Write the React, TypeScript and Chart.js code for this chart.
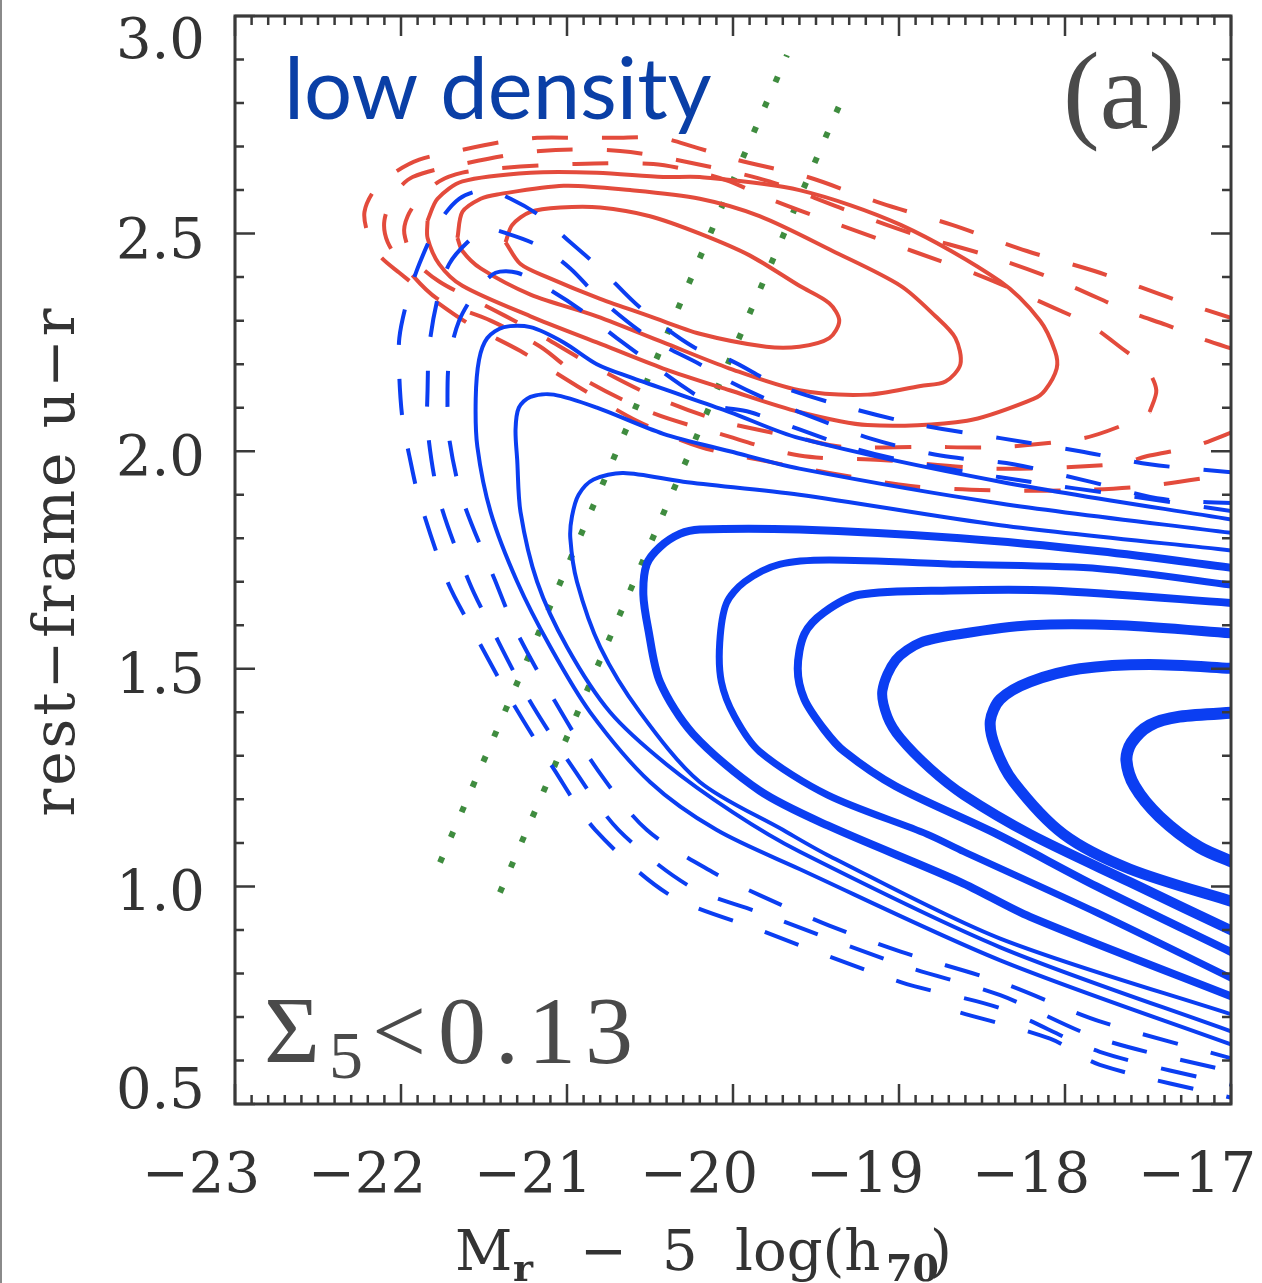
import React, { useEffect, useRef } from "react";
import { Chart, registerables } from "chart.js";

Chart.register(...registerables);

type Pt = [number, number];

// ---- axes ----
const xRange: [number, number] = [-23, -17];
const yRange: [number, number] = [0.5, 3.0];
const xTicks = [-23, -22, -21, -20, -19, -18, -17];
const xTickLabels = ["−23", "−22", "−21", "−20", "−19", "−18", "−17"];
const yTicks = [0.5, 1.0, 1.5, 2.0, 2.5, 3.0];
const yTickLabels = ["0.5", "1.0", "1.5", "2.0", "2.5", "3.0"];
const minorStep = 0.1;

// ---- blue population: solid contours, innermost (thickest) first ----
const blueF: Pt[] = [[-16.95,1.40],[-17.31,1.39],[-17.49,1.37],[-17.60,1.33],[-17.63,1.29],[-17.58,1.23],[-17.43,1.16],[-17.19,1.09],[-16.95,1.05]];
const blueE: Pt[] = [[-16.95,1.50],[-17.49,1.51],[-17.91,1.50],[-18.21,1.47],[-18.39,1.43],[-18.45,1.38],[-18.42,1.32],[-18.31,1.24],[-18.01,1.12],[-17.61,1.04],[-16.95,0.96]];
const blueD: Pt[] = [[-16.95,1.58],[-17.67,1.60],[-18.21,1.60],[-18.63,1.58],[-18.87,1.56],[-19.02,1.52],[-19.10,1.45],[-19.07,1.39],[-18.99,1.34],[-18.81,1.27],[-18.61,1.21],[-18.21,1.12],[-17.61,1.01],[-16.95,0.89]];
const blueC: Pt[] = [[-16.95,1.65],[-18.09,1.68],[-18.69,1.68],[-19.24,1.67],[-19.45,1.63],[-19.57,1.58],[-19.61,1.50],[-19.57,1.43],[-19.45,1.36],[-19.33,1.31],[-19.02,1.23],[-18.41,1.12],[-17.81,1.00],[-16.95,0.84]];
const blueB: Pt[] = [[-16.95,1.69],[-17.79,1.73],[-18.63,1.74],[-19.42,1.75],[-19.72,1.74],[-19.93,1.70],[-20.04,1.65],[-20.08,1.56],[-20.07,1.47],[-19.99,1.39],[-19.84,1.31],[-19.43,1.21],[-18.83,1.12],[-18.61,1.08],[-17.81,0.94],[-16.95,0.78]];
const blueA: Pt[] = [[-16.95,1.73],[-17.79,1.77],[-18.63,1.80],[-19.60,1.82],[-20.20,1.82],[-20.32,1.81],[-20.44,1.78],[-20.52,1.74],[-20.54,1.67],[-20.51,1.59],[-20.44,1.47],[-20.24,1.35],[-19.84,1.22],[-19.43,1.14],[-18.63,1.01],[-18.21,0.93],[-16.95,0.74]];
const blueT1: Pt[] = [[-16.95,1.77],[-18.39,1.83],[-19.60,1.90],[-20.30,1.93],[-20.66,1.95],[-20.84,1.935],[-20.93,1.90],[-20.97,1.85],[-20.98,1.80],[-20.94,1.70],[-20.80,1.55],[-20.56,1.40],[-20.20,1.24],[-19.70,1.13],[-19.42,1.07],[-18.39,0.88],[-16.95,0.70]];
const blueT2: Pt[] = [[-16.95,1.81],[-18.39,1.88],[-19.60,1.96],[-20.02,2.00],[-20.42,2.04],[-20.82,2.10],[-21.08,2.13],[-21.22,2.125],[-21.29,2.10],[-21.31,2.05],[-21.30,1.98],[-21.28,1.86],[-21.18,1.70],[-21.00,1.55],[-20.74,1.40],[-20.40,1.28],[-20.00,1.17],[-19.60,1.08],[-18.39,0.86],[-16.95,0.66]];
const blueT3: Pt[] = [[-16.95,1.84],[-18.39,1.93],[-19.60,2.03],[-20.02,2.09],[-20.32,2.13],[-20.62,2.17],[-20.82,2.20],[-21.02,2.25],[-21.22,2.285],[-21.38,2.285],[-21.48,2.26],[-21.53,2.21],[-21.55,2.12],[-21.54,2.01],[-21.46,1.86],[-21.30,1.70],[-21.10,1.55],[-20.86,1.40],[-20.50,1.24],[-20.10,1.13],[-19.60,1.04],[-18.39,0.83],[-16.95,0.63]];

// ---- blue population: dashed outer contours ----
const blueDash1: Pt[] = [[-16.95,1.86],[-17.49,1.89],[-18.39,1.94],[-18.99,1.98],[-19.30,2.01],[-19.90,2.09],[-20.14,2.11],[-20.70,2.26],[-20.90,2.32],[-21.10,2.37],[-21.30,2.41],[-21.43,2.41],[-21.54,2.37],[-21.65,2.30],[-21.71,2.21],[-21.72,2.12],[-21.71,2.03],[-21.63,1.89],[-21.43,1.70],[-21.31,1.59],[-21.08,1.43],[-20.82,1.27],[-20.52,1.13],[-20.11,1.03],[-19.84,0.98],[-19.42,0.91],[-18.99,0.85],[-18.39,0.78],[-17.79,0.69],[-16.95,0.60]];
const blueDash2: Pt[] = [[-16.95,1.88],[-17.41,1.89],[-17.85,1.93],[-18.31,1.97],[-18.75,1.99],[-19.18,2.03],[-19.60,2.09],[-19.80,2.12],[-20.02,2.16],[-20.20,2.20],[-20.50,2.26],[-20.80,2.35],[-20.98,2.42],[-21.16,2.47],[-21.36,2.50],[-21.49,2.51],[-21.60,2.48],[-21.71,2.43],[-21.78,2.35],[-21.83,2.24],[-21.84,2.14],[-21.84,2.05],[-21.77,1.89],[-21.59,1.70],[-21.45,1.59],[-21.23,1.43],[-20.96,1.27],[-20.69,1.13],[-20.26,1.00],[-19.84,0.94],[-18.99,0.82],[-18.39,0.75],[-17.79,0.65],[-16.95,0.57]];
const blueDash3: Pt[] = [[-16.95,1.95],[-17.49,1.97],[-17.91,2.00],[-18.39,2.03],[-18.87,2.06],[-19.30,2.10],[-19.72,2.15],[-20.02,2.21],[-20.24,2.24],[-20.56,2.33],[-20.80,2.42],[-20.98,2.48],[-21.16,2.54],[-21.34,2.58],[-21.49,2.60],[-21.65,2.58],[-21.78,2.52],[-21.89,2.43],[-21.96,2.35],[-22.01,2.26],[-22.01,2.17],[-21.99,2.07],[-21.95,1.99],[-21.89,1.89],[-21.72,1.70],[-21.57,1.59],[-21.34,1.43],[-21.08,1.27],[-20.83,1.13],[-20.38,0.98],[-19.84,0.90],[-18.99,0.78],[-18.39,0.72],[-17.79,0.62],[-16.95,0.54]];
const blueDash4: Pt[] = [[-18.63,0.71],[-18.09,0.65],[-17.79,0.59],[-16.95,0.51]];

// ---- red population: solid contours ----
const redSolid1: Pt[] = [[-21.37,2.48],[-21.33,2.52],[-21.22,2.55],[-21.04,2.56],[-20.80,2.56],[-20.50,2.54],[-20.20,2.50],[-19.90,2.45],[-19.60,2.38],[-19.42,2.34],[-19.36,2.30],[-19.42,2.26],[-19.60,2.24],[-19.80,2.24],[-20.20,2.27],[-20.50,2.31],[-20.80,2.35],[-21.12,2.40],[-21.28,2.43],[-21.37,2.48]];
const redSolid2: Pt[] = [[-21.66,2.49],[-21.63,2.55],[-21.52,2.58],[-21.42,2.59],[-21.02,2.61],[-20.62,2.60],[-20.20,2.58],[-19.84,2.54],[-19.40,2.46],[-18.99,2.38],[-18.78,2.31],[-18.66,2.26],[-18.63,2.20],[-18.72,2.16],[-18.87,2.15],[-19.19,2.13],[-19.60,2.14],[-20.02,2.19],[-20.42,2.25],[-20.82,2.31],[-21.22,2.36],[-21.52,2.42],[-21.63,2.46],[-21.66,2.49]];
const redSolid3: Pt[] = [[-21.84,2.53],[-21.78,2.58],[-21.63,2.62],[-21.22,2.64],[-20.82,2.64],[-20.42,2.63],[-20.20,2.63],[-19.60,2.60],[-18.99,2.52],[-18.39,2.39],[-18.15,2.30],[-18.06,2.23],[-18.05,2.19],[-18.12,2.14],[-18.19,2.12],[-18.59,2.07],[-19.19,2.06],[-19.60,2.09],[-20.02,2.14],[-20.42,2.19],[-20.82,2.25],[-21.22,2.31],[-21.63,2.38],[-21.77,2.43],[-21.84,2.49],[-21.84,2.53]];

// ---- red population: dashed outer contours ----
const redDash1: Pt[] = [[-17.49,2.09],[-17.45,2.14],[-17.51,2.19],[-17.67,2.24],[-17.85,2.29],[-18.07,2.33],[-18.49,2.40],[-18.92,2.46],[-19.36,2.52],[-19.78,2.58],[-20.02,2.62],[-20.20,2.64],[-20.48,2.66],[-20.96,2.66],[-21.42,2.65],[-21.63,2.64],[-21.77,2.62],[-21.89,2.58],[-21.96,2.54],[-21.98,2.50],[-21.92,2.44],[-21.77,2.39],[-21.52,2.34],[-21.22,2.28],[-20.86,2.20],[-20.50,2.13],[-20.08,2.07],[-19.60,2.03],[-19.34,2.01],[-18.86,2.01],[-18.37,2.01],[-17.89,2.03],[-17.65,2.06],[-17.49,2.09]];
const redDash2: Pt[] = [[-16.95,2.23],[-17.19,2.26],[-17.39,2.29],[-17.61,2.32],[-18.03,2.39],[-18.47,2.45],[-18.92,2.50],[-19.36,2.56],[-19.78,2.62],[-20.22,2.66],[-20.68,2.69],[-21.16,2.69],[-21.63,2.66],[-21.93,2.63],[-22.04,2.59],[-22.10,2.53],[-22.08,2.48],[-21.99,2.43],[-21.78,2.35],[-21.46,2.30],[-21.16,2.24],[-20.92,2.17],[-20.50,2.09],[-20.08,2.04],[-19.60,1.99],[-19.11,1.98],[-18.43,1.96],[-17.69,1.97],[-17.49,1.99],[-17.23,2.01],[-16.95,2.05]];
const redDash3: Pt[] = [[-16.95,2.30],[-17.35,2.35],[-17.79,2.41],[-18.23,2.46],[-18.68,2.52],[-19.11,2.57],[-19.55,2.63],[-19.98,2.67],[-20.24,2.70],[-20.44,2.72],[-20.72,2.72],[-20.92,2.72],[-21.18,2.72],[-21.40,2.71],[-21.66,2.69],[-21.89,2.67],[-22.04,2.64],[-22.16,2.60],[-22.22,2.55],[-22.20,2.50],[-22.13,2.45],[-22.01,2.41],[-21.81,2.35],[-21.58,2.29],[-21.28,2.23],[-20.94,2.15],[-20.58,2.07],[-20.20,2.01],[-19.84,1.98],[-19.42,1.95],[-18.93,1.92],[-18.45,1.91],[-17.97,1.91],[-17.51,1.92],[-16.95,1.95]];

// ---- dotted reference lines ----
const greenLine1: Pt[] = [[-21.765,1.055],[-19.675,2.91]];
const greenLine2: Pt[] = [[-21.404,0.986],[-19.325,2.825]];

const BLUE = "#0b3ef2";
const RED = "#e34b3c";
const GREEN = "#3f8c3f";
const DASH = [36, 34];
const SERIF = '"DejaVu Serif", serif';

function contour(points: Pt[], color: string, width: number, dash: number[] = []) {
  return {
    data: points.map(([x, y]) => ({ x, y })),
    showLine: true,
    borderColor: color,
    backgroundColor: color,
    borderWidth: width,
    borderDash: dash,
    borderCapStyle: "butt" as const,
    borderJoinStyle: "round" as const,
    pointRadius: 0,
    pointHoverRadius: 0,
    tension: 0.3,
    fill: false,
    clip: 0,
  };
}

function dotted(points: Pt[]) {
  return {
    data: points.map(([x, y]) => ({ x, y })),
    showLine: true,
    borderColor: GREEN,
    borderWidth: 6,
    borderDash: [6, 21.4],
    borderCapStyle: "butt" as const,
    pointRadius: 0,
    pointHoverRadius: 0,
    tension: 0,
    fill: false,
    clip: 0,
  };
}

const panelPlugin = {
  id: "panelDecor",
  afterDatasetsDraw(chart: any) {
    const { ctx, chartArea: a, scales } = chart;
    const xs = scales.x;
    const ys = scales.y;
    ctx.save();

    // frame
    ctx.strokeStyle = "#3a3a3a";
    ctx.lineWidth = 3;
    ctx.strokeRect(a.left, a.top, a.right - a.left, a.bottom - a.top);

    // inward ticks on all four sides
    ctx.lineWidth = 2.5;
    const nx = Math.round((xRange[1] - xRange[0]) / minorStep);
    for (let i = 0; i <= nx; i++) {
      const v = xRange[0] + i * minorStep;
      const major = xTicks.some((t) => Math.abs(t - v) < 1e-6);
      const len = major ? 20 : 9;
      const px = xs.getPixelForValue(v);
      ctx.beginPath();
      ctx.moveTo(px, a.bottom);
      ctx.lineTo(px, a.bottom - len);
      ctx.moveTo(px, a.top);
      ctx.lineTo(px, a.top + len);
      ctx.stroke();
    }
    const ny = Math.round((yRange[1] - yRange[0]) / minorStep);
    for (let i = 0; i <= ny; i++) {
      const v = yRange[0] + i * minorStep;
      const major = yTicks.some((t) => Math.abs(t - v) < 1e-6);
      const len = major ? 20 : 9;
      const py = ys.getPixelForValue(v);
      ctx.beginPath();
      ctx.moveTo(a.left, py);
      ctx.lineTo(a.left + len, py);
      ctx.moveTo(a.right, py);
      ctx.lineTo(a.right - len, py);
      ctx.stroke();
    }

    // tick labels
    ctx.fillStyle = "#333333";
    ctx.font = `56px ${SERIF}`;
    ctx.textBaseline = "alphabetic";
    ctx.textAlign = "right";
    yTicks.forEach((v, i) => {
      let c = ys.getPixelForValue(v) + 4;
      c = Math.max(38, Math.min(1088, c));
      ctx.fillText(yTickLabels[i], a.left - 30, c + 20);
    });
    ctx.textAlign = "center";
    xTicks.forEach((v, i) => {
      ctx.fillText(xTickLabels[i], xs.getPixelForValue(v) - 34, 1192);
    });

    // axis titles
    ctx.textAlign = "left";
    ctx.font = `56px ${SERIF}`;
    ctx.fillText("M", 455, 1270);
    ctx.font = `bold 38px ${SERIF}`;
    ctx.fillText("r", 513, 1281);
    ctx.font = `56px ${SERIF}`;
    ctx.fillText("−", 580, 1270);
    ctx.fillText("5", 662, 1270);
    ctx.fillText("log(h", 735, 1270);
    ctx.font = `bold 38px ${SERIF}`;
    ctx.fillText("70", 886, 1281);
    ctx.font = `56px ${SERIF}`;
    ctx.fillText(")", 930, 1270);

    ctx.save();
    ctx.translate(74, 561);
    ctx.rotate(-Math.PI / 2);
    ctx.textAlign = "center";
    ctx.font = `58px ${SERIF}`;
    (ctx as any).letterSpacing = "3px";
    ctx.fillText("rest−frame u−r", 0, 0);
    ctx.restore();

    // panel annotations
    ctx.fillStyle = "#0a3fa6";
    ctx.font = '85px Lato, "Open Sans", sans-serif';
    ctx.textAlign = "left";
    ctx.fillText("low density", 284, 119);

    ctx.fillStyle = "#4a4a4a";
    ctx.font = '110px "Liberation Serif", serif';
    ctx.fillText("(a)", 1063, 128);

    ctx.font = '96px "Liberation Serif", serif';
    ctx.fillText("Σ", 264, 1063);
    ctx.font = '68px "Liberation Serif", serif';
    ctx.fillText("5", 329, 1078);
    ctx.font = '96px "Liberation Serif", serif';
    ctx.fillText("<", 372, 1063);
    (ctx as any).letterSpacing = "9px";
    ctx.fillText("0.13", 438, 1063);
    (ctx as any).letterSpacing = "0px";

    // page edge rule
    ctx.fillStyle = "#8a8a8a";
    ctx.fillRect(0, 0, 2, chart.height);

    ctx.restore();
  },
};

export default function App() {
  const ref = useRef<HTMLCanvasElement | null>(null);

  useEffect(() => {
    document.body.style.margin = "0";
    const canvas = ref.current;
    if (!canvas) return;

    const datasets = [
      contour(blueT3, BLUE, 4),
      contour(blueT2, BLUE, 4),
      contour(blueT1, BLUE, 4),
      contour(blueA, BLUE, 8),
      contour(blueB, BLUE, 7),
      contour(blueC, BLUE, 8),
      contour(blueD, BLUE, 10),
      contour(blueE, BLUE, 11),
      contour(blueF, BLUE, 12),
      contour(blueDash1, BLUE, 4, DASH),
      contour(blueDash2, BLUE, 4, DASH),
      contour(blueDash3, BLUE, 4, DASH),
      contour(blueDash4, BLUE, 4, DASH),
      contour(redSolid1, RED, 4),
      contour(redSolid2, RED, 4),
      contour(redSolid3, RED, 4),
      contour(redDash1, RED, 4, DASH),
      contour(redDash2, RED, 4, DASH),
      contour(redDash3, RED, 4, DASH),
      dotted(greenLine1),
      dotted(greenLine2),
    ];

    const chart = new Chart(canvas, {
      type: "scatter",
      data: { datasets: datasets as any },
      options: {
        animation: false,
        responsive: false,
        maintainAspectRatio: false,
        events: [],
        layout: { padding: { left: 0, right: 31, top: 16, bottom: 0 } },
        scales: {
          x: {
            type: "linear",
            min: xRange[0],
            max: xRange[1],
            ticks: { display: false },
            grid: { display: false },
            border: { display: false },
            afterFit: (s: any) => {
              s.height = 179;
            },
          },
          y: {
            type: "linear",
            min: yRange[0],
            max: yRange[1],
            ticks: { display: false },
            grid: { display: false },
            border: { display: false },
            afterFit: (s: any) => {
              s.width = 235;
            },
          },
        },
        plugins: {
          legend: { display: false },
          tooltip: { enabled: false },
        },
      },
      plugins: [panelPlugin],
    });

    return () => chart.destroy();
  }, []);

  return (
    <div style={{ width: 1262, height: 1283, background: "#ffffff" }}>
      <canvas ref={ref} width={1262} height={1283} style={{ display: "block", width: 1262, height: 1283 }} />
    </div>
  );
}
